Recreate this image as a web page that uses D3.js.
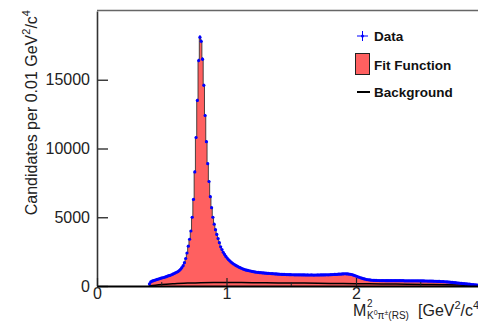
<!DOCTYPE html>
<html>
<head>
<meta charset="utf-8">
<script src="https://cdn.jsdelivr.net/npm/d3@7"></script>
<style>
  body { margin: 0; background: #fff; }
  svg { display: block; font-family: "Liberation Sans", Arial, Helvetica, sans-serif; }
</style>
</head>
<body>
<div id="chart"></div>
<script>
// histogram: 0.01 GeV^2/c^4 bins starting at 0.40
const massStart = 0.40;
const binWidth = 0.01;
const counts = [
  150, 300, 350, 390, 420, 450, 480, 510, 540, 570,
  600, 620, 650, 680, 720, 750, 780, 820, 860, 910,
  960, 1000, 1050, 1120, 1220, 1340, 1480, 1700, 2000, 2400,
  2900, 3400, 4000, 5000, 6300, 8300, 10800, 13500, 16400, 18100,
  17800, 16500, 14600, 12400, 10500, 8900, 7600, 6500, 5700, 5000,
  4500, 4100, 3750, 3450, 3150, 2850, 2650, 2450, 2300, 2150,
  2030, 1920, 1830, 1740, 1670, 1600, 1540, 1480, 1430, 1380,
  1330, 1290, 1250, 1210, 1180, 1150, 1130, 1110, 1090, 1070,
  1050, 1030, 1010, 1000, 990, 980, 970, 960, 950, 940,
  935, 925, 920, 910, 905, 895, 890, 880, 875, 870,
  860, 855, 850, 845, 840, 835, 830, 830, 825, 825,
  820, 820, 815, 815, 810, 810, 815, 810, 805, 810,
  805, 800, 805, 800, 800, 805, 800, 795, 800, 800,
  805, 800, 805, 810, 805, 810, 815, 820, 815, 820,
  825, 830, 835, 840, 845, 850, 860, 865, 870, 880,
  885, 890, 885, 880, 870, 855, 835, 810, 780, 745,
  710, 670, 635, 600, 570, 540, 515, 490, 470, 455,
  440, 430, 420, 415, 410, 405, 400, 400, 395, 395,
  395, 395, 390, 390, 390, 390, 390, 390, 385, 385,
  385, 385, 385, 385, 385, 385, 385, 380, 380, 380,
  380, 380, 380, 380, 375, 375, 375, 375, 375, 370,
  370, 370, 370, 365, 365, 360, 360, 355, 355, 350,
  345, 345, 340, 335, 330, 325, 320, 315, 310, 305,
  300, 290, 280, 270, 260, 250, 240, 230, 220, 210,
  200, 190, 180, 170, 160, 150, 140, 130, 120, 105,
  95, 85, 75, 65, 50, 40, 30, 20, 10
];
// background shape
const bgMass = [0.40, 0.45, 0.50, 0.60, 0.70, 0.80, 0.90, 1.00, 1.20, 1.40, 1.60, 1.80, 2.00, 2.20, 2.40, 2.60, 2.80, 2.90, 2.99];
const bgValues = [0, 60, 110, 170, 210, 240, 250, 250, 240, 225, 210, 190, 170, 150, 130, 105, 70, 40, 0];

const yTicks = [0, 5000, 10000, 15000];
const xTicks = [0, 1, 2, 3];
const xMinorTicks = [0.5, 1.5, 2.5];

const W = 478, H = 328;
const margin = { left: 97, top: 11, bottom: 42 };
const plotRight = 485.5;

const svg = d3.select("#chart").append("svg").attr("width", W).attr("height", H);

const x = d3.scaleLinear().domain([0, 3]).range([margin.left, plotRight]);
const y = d3.scaleLinear().domain([0, 20000]).range([H - margin.bottom, margin.top]);

const bins = counts.map((c, i) => ({ lo: massStart + i * binWidth, c: c }));

// fit function, drawn as a filled histogram
const stepPts = bins.concat([{ lo: massStart + counts.length * binWidth, c: counts[counts.length - 1] }]);
svg.append("path")
  .datum(stepPts)
  .attr("fill", "#ff6060")
  .attr("d", d3.area().curve(d3.curveStepAfter).x(d => x(d.lo)).y0(y(0)).y1(d => y(d.c)));
svg.append("path")
  .datum(stepPts)
  .attr("fill", "none")
  .attr("stroke", "#222")
  .attr("stroke-width", 0.8)
  .attr("d", d3.line().curve(d3.curveStepAfter).x(d => x(d.lo)).y(d => y(d.c)));

// background
svg.append("path")
  .datum(bgMass.map((m, i) => [m, bgValues[i]]))
  .attr("fill", "none")
  .attr("stroke", "#000")
  .attr("stroke-width", 1.5)
  .attr("d", d3.line().curve(d3.curveMonotoneX).x(d => x(d[0])).y(d => y(d[1])));

// data points with errors
const pts = svg.append("g");
pts.selectAll("line")
  .data(bins)
  .join("line")
  .attr("x1", d => x(d.lo + binWidth / 2))
  .attr("x2", d => x(d.lo + binWidth / 2))
  .attr("y1", d => y(d.c - Math.sqrt(d.c)))
  .attr("y2", d => y(d.c + Math.sqrt(d.c)))
  .attr("stroke", "#0000ff")
  .attr("stroke-width", 1);
pts.selectAll("circle")
  .data(bins)
  .join("circle")
  .attr("cx", d => x(d.lo + binWidth / 2))
  .attr("cy", d => y(d.c))
  .attr("r", 1.6)
  .attr("fill", "#0000ff");

// frame top
svg.append("line")
  .attr("x1", margin.left).attr("x2", plotRight)
  .attr("y1", margin.top - 0.5).attr("y2", margin.top - 0.5)
  .attr("stroke", "#666").attr("stroke-width", 1.5);

// axes
const yAxis = svg.append("g")
  .attr("transform", `translate(${margin.left},0)`)
  .call(d3.axisLeft(y).tickValues(yTicks).tickFormat(d3.format("d")).tickSizeInner(-11).tickSizeOuter(0).tickPadding(7));
yAxis.select(".domain").attr("stroke", "#333").attr("stroke-width", 1.6);
yAxis.selectAll(".tick line").attr("stroke", "#333").attr("stroke-width", 1.4);
yAxis.selectAll("text").attr("font-size", 16).attr("fill", "#222").attr("font-family", null);

const xAxis = svg.append("g")
  .attr("transform", `translate(0,${y(0)})`)
  .call(d3.axisBottom(x).tickValues(xTicks).tickFormat(d3.format("d")).tickSizeInner(-8).tickSizeOuter(0).tickPadding(2));
xAxis.select(".domain").attr("stroke", "#000").attr("stroke-width", 2);
xAxis.selectAll(".tick line").attr("stroke", "#222").attr("stroke-width", 1.2);
xAxis.selectAll("text").attr("font-size", 16).attr("fill", "#222").attr("font-family", null);

svg.append("g")
  .attr("transform", `translate(0,${y(0)})`)
  .selectAll("line")
  .data(xMinorTicks)
  .join("line")
  .attr("x1", d => x(d)).attr("x2", d => x(d))
  .attr("y1", 0).attr("y2", -4)
  .attr("stroke", "#222").attr("stroke-width", 1);

// y title
const yTitle = svg.append("text")
  .attr("transform", "translate(37,10) rotate(-90)")
  .attr("text-anchor", "end")
  .attr("font-size", 16)
  .attr("fill", "#222");
yTitle.append("tspan").text("Candidates per 0.01 GeV");
yTitle.append("tspan").attr("font-size", 11).attr("dy", -7).text("2");
yTitle.append("tspan").attr("dy", 7).text("/c");
yTitle.append("tspan").attr("font-size", 11).attr("dy", -7).text("4");

// x title
const xt = svg.append("g").attr("fill", "#222");
xt.append("text").attr("x", 353).attr("y", 316).attr("font-size", 16).text("M");
xt.append("text").attr("x", 367).attr("y", 307).attr("font-size", 10).text("2");
const sub = xt.append("text").attr("x", 367).attr("y", 319).attr("font-size", 10);
sub.append("tspan").text("K");
sub.append("tspan").attr("font-size", 7).attr("dy", -4).text("0");
sub.append("tspan").attr("dy", 4).text("π");
sub.append("tspan").attr("font-size", 7).attr("dy", -4).text("±");
sub.append("tspan").attr("dy", 4).text("(RS)");
const unit = xt.append("text").attr("x", 418).attr("y", 316).attr("font-size", 16);
unit.append("tspan").text("[GeV");
unit.append("tspan").attr("font-size", 11).attr("dy", -7).text("2");
unit.append("tspan").attr("dy", 7).text("/c");
unit.append("tspan").attr("font-size", 11).attr("dy", -7).text("4");
unit.append("tspan").attr("dy", 7).text("]");

// legend
const lg = svg.append("g").attr("font-size", 13.5).attr("font-weight", "bold").attr("fill", "#111");
lg.append("line").attr("x1", 357).attr("x2", 368).attr("y1", 36).attr("y2", 36).attr("stroke", "#0000ff").attr("stroke-width", 1);
lg.append("line").attr("x1", 362.5).attr("x2", 362.5).attr("y1", 31).attr("y2", 41).attr("stroke", "#0000ff").attr("stroke-width", 1);
lg.append("circle").attr("cx", 362.5).attr("cy", 36).attr("r", 1.5).attr("fill", "#0000ff");
lg.append("text").attr("x", 374).attr("y", 41).text("Data");
lg.append("rect").attr("x", 355.5).attr("y", 53.5).attr("width", 14).attr("height", 21)
  .attr("fill", "#ff6060").attr("stroke", "#222").attr("stroke-width", 1);
lg.append("text").attr("x", 374).attr("y", 70).text("Fit Function");
lg.append("line").attr("x1", 357).attr("x2", 370).attr("y1", 92).attr("y2", 92).attr("stroke", "#000").attr("stroke-width", 2);
lg.append("text").attr("x", 374).attr("y", 97).text("Background");
</script>
</body>
</html>
